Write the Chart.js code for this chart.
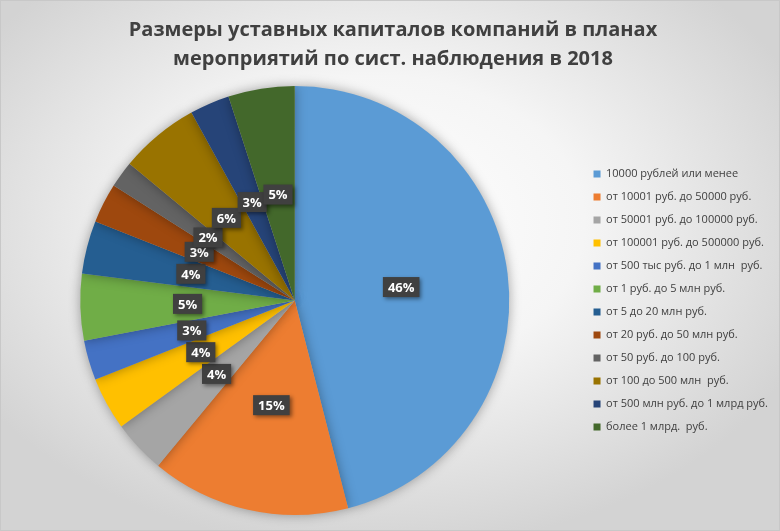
<!DOCTYPE html>
<html>
<head>
<meta charset="utf-8">
<script src="https://cdn.jsdelivr.net/npm/chart.js@4"></script>
<style>
html,body{margin:0;padding:0;}
body{width:780px;height:531px;overflow:hidden;}
#wrap{position:relative;width:778px;height:529px;border:1px solid #c8c8c8;
background:radial-gradient(ellipse 60% 62% at 48% 42%, #ffffff 0%, #f5f5f5 45%, #d3d3d3 100%);}
canvas{display:block;}
</style>
</head>
<body>
<div id="wrap"><canvas id="c" width="778" height="529"></canvas></div>
<script>
const titleLines = ["Размеры уставных капиталов компаний в планах", "мероприятий по сист. наблюдения в 2018"];
const categories = [
  "10000 рублей или менее",
  "от 10001 руб. до 50000 руб.",
  "от 50001 руб. до 100000 руб.",
  "от 100001 руб. до 500000 руб.",
  "от 500 тыс руб. до 1 млн  руб.",
  "от 1 руб. до 5 млн руб.",
  "от 5 до 20 млн руб.",
  "от 20 руб. до 50 млн руб.",
  "от 50 руб. до 100 руб.",
  "от 100 до 500 млн  руб.",
  "от 500 млн руб. до 1 млрд руб.",
  "более 1 млрд.  руб."
];
const shares = [46, 15, 4, 4, 3, 5, 4, 3, 2, 6, 3, 5];
const colors = ["#5B9BD5","#ED7D31","#A5A5A5","#FFC000","#4472C4","#70AD47","#255E91","#9E480E","#636363","#997300","#264478","#43682B"];

const labelPlugin = {
  id: 'boxLabels',
  afterDatasetsDraw(chart) {
    const ctx = chart.ctx;
    const meta = chart.getDatasetMeta(0);
    ctx.save();
    ctx.font = 'bold 13px "Open Sans", sans-serif';
    ctx.textAlign = 'center';
    ctx.textBaseline = 'middle';
    meta.data.forEach((arc, i) => {
      const p = arc.tooltipPosition();
      const txt = shares[i] + '%';
      const w = ctx.measureText(txt).width + 10;
      const h = 20;
      ctx.save();
      ctx.shadowColor = 'rgba(0,0,0,0.45)';
      ctx.shadowBlur = 4;
      ctx.shadowOffsetX = 2;
      ctx.shadowOffsetY = 2;
      ctx.fillStyle = '#404040';
      ctx.fillRect(p.x - w/2, p.y - h/2, w, h);
      ctx.restore();
      ctx.fillStyle = '#ffffff';
      ctx.fillText(txt, p.x, p.y + 1);
    });
    ctx.restore();
  }
};

const shadowPlugin = {
  id: 'pieShadow',
  beforeDatasetsDraw(chart) {
    const ctx = chart.ctx;
    ctx.save();
    ctx.shadowColor = 'rgba(0,0,0,0.35)';
    ctx.shadowBlur = 12;
  },
  afterDatasetsDraw(chart) {
    chart.ctx.restore();
  }
};

new Chart(document.getElementById('c'), {
  type: 'pie',
  data: {
    labels: categories,
    datasets: [{
      data: shares,
      backgroundColor: colors,
      borderWidth: 0
    }]
  },
  options: {
    responsive: false,
    animation: false,
    layout: { padding: { left: 7, right: 1, top: 0, bottom: 15 } },
    plugins: {
      title: {
        display: true,
        text: titleLines,
        color: '#404040',
        font: { family: '"Open Sans", sans-serif', size: 20, weight: 'bold', lineHeight: 1.45 },
        padding: { top: 15, bottom: 12 }
      },
      legend: {
        position: 'right',
        fullSize: false,
        labels: {
          color: '#404040',
          font: { family: '"Open Sans", sans-serif', size: 11 },
          boxWidth: 7,
          boxHeight: 7,
          padding: 12
        }
      },
      tooltip: { enabled: false }
    }
  },
  plugins: [shadowPlugin, labelPlugin]
});
</script>
</body>
</html>
